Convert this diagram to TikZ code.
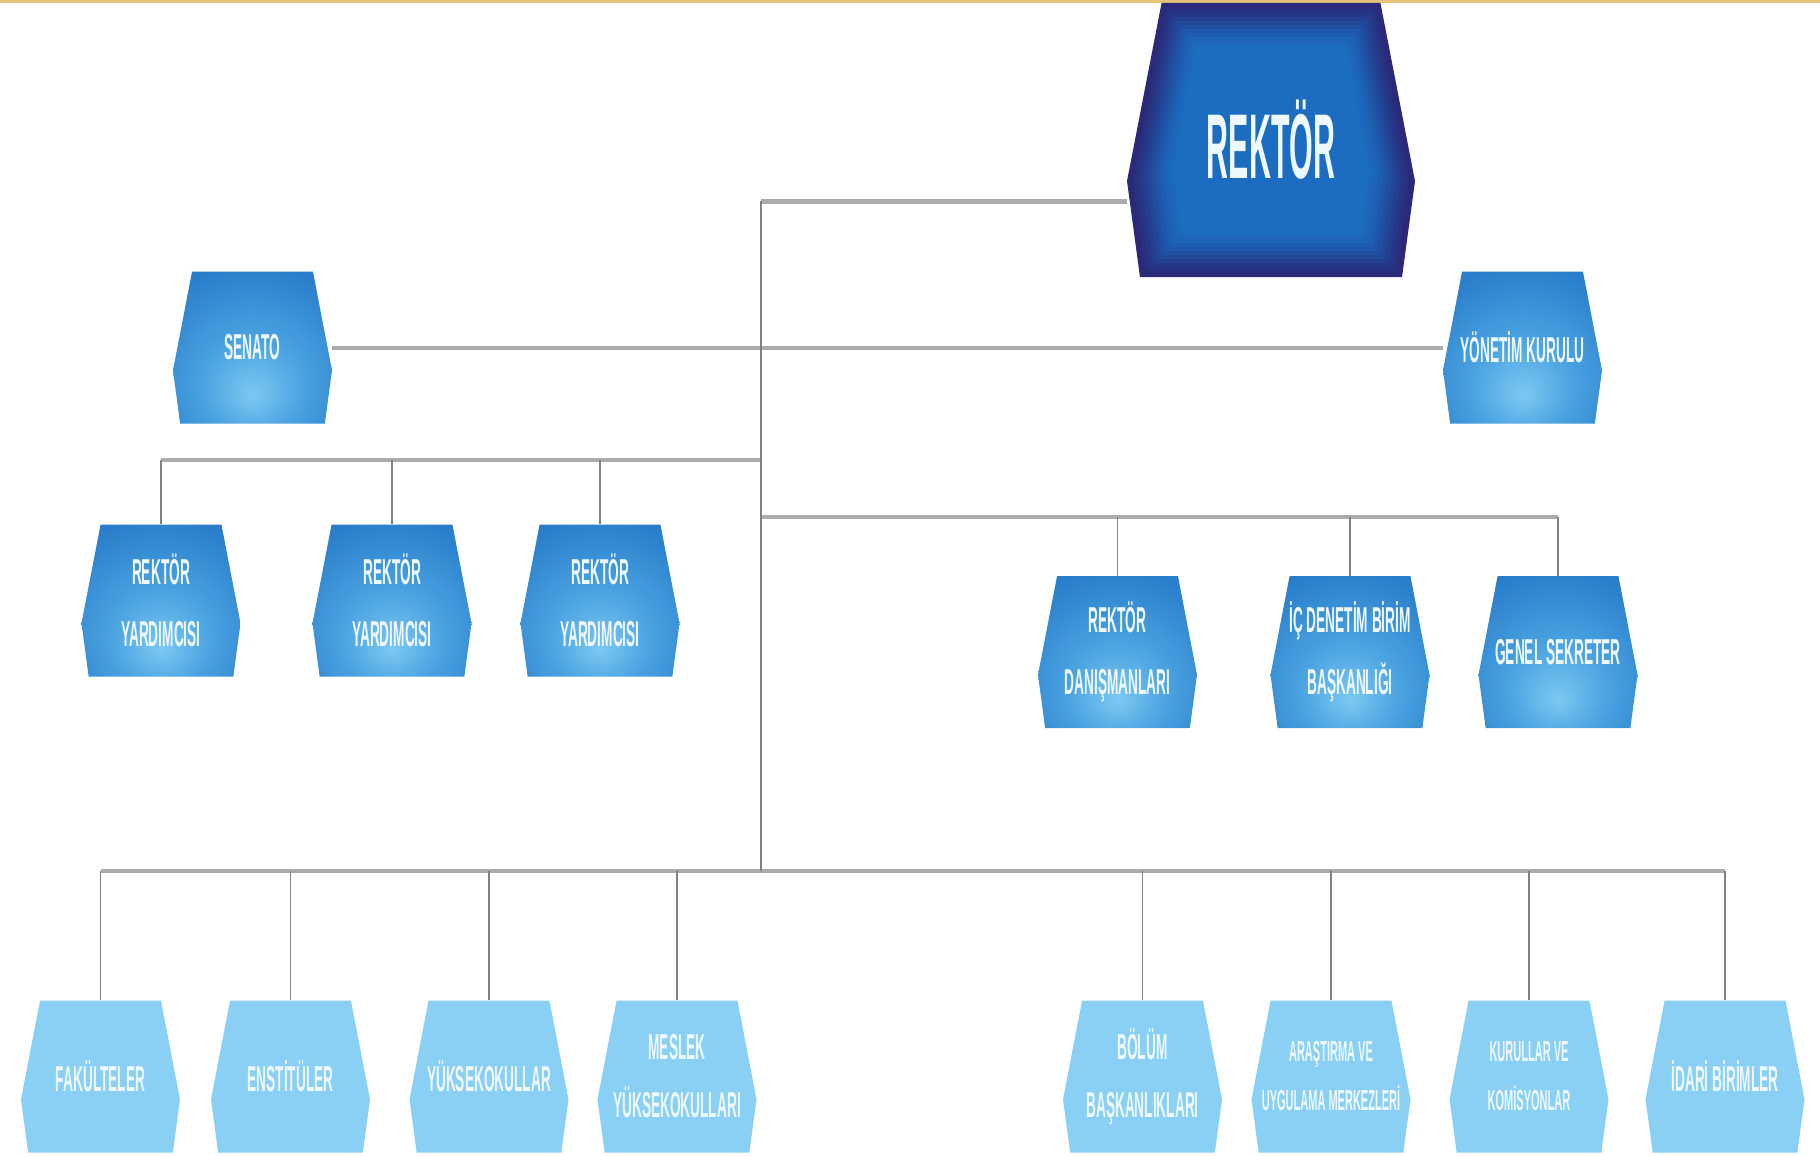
\documentclass[tikz,border=0pt]{standalone}
\usepackage{fontspec}
\newfontfamily\bxfont[FakeStretch=0.38]{Liberation Sans}
\newfontfamily\rkfont[FakeStretch=0.33]{Liberation Sans}
\usetikzlibrary{calc}
\definecolor{rBlue}{HTML}{1C6EC2}
\definecolor{rNavy}{HTML}{2A2A78}
\definecolor{mLight}{HTML}{7CC8F2}
\definecolor{mMid}{HTML}{4AA2E0}
\definecolor{mBlue}{HTML}{2A7ECB}
\definecolor{mDark}{HTML}{1E6CBE}
\definecolor{lowblue}{HTML}{8AD0F5}
\definecolor{txt}{HTML}{EEF8FF}
\definecolor{barc}{HTML}{ABABAB}
\definecolor{dropc}{HTML}{808080}
\definecolor{goldc}{HTML}{E6C27A}
\pgfdeclareradialshading{midsh}{\pgfpoint{0bp}{-16bp}}{color(0bp)=(mLight); color(16bp)=(mMid); color(36bp)=(mBlue); color(52bp)=(mDark); color(80bp)=(mDark)}
\tikzset{
  hexbox/.style={minimum width=79.5pt, minimum height=76pt, inner sep=0pt, align=center, text=txt,
    font=\bxfont\bfseries\fontsize{18}{31}\selectfont,
    path picture={\path[#1] let \p1=(path picture bounding box.north west), \p2=(path picture bounding box.south east),
      \n1={\x2-\x1}, \n2={\y1-\y2} in
      (\x1+0.12*\n1,\y1) -- (\x2-0.12*\n1,\y1) -- (\x2,\y1-0.65*\n2) -- (\x2-0.045*\n1,\y2)
      -- (\x1+0.045*\n1,\y2) -- (\x1,\y1-0.65*\n2) -- cycle;}},
  glowbox/.style={minimum width=144pt, minimum height=137pt, inner sep=0pt, align=center, text=txt,
    font=\rkfont\bfseries\fontsize{46}{48}\selectfont,
    path picture={
      \foreach \s/\c/\o in {1/rNavy/1,0.96/rBlue/0.1,0.93/rBlue/0.12,0.90/rBlue/0.15,0.87/rBlue/0.18,
                            0.84/rBlue/0.22,0.81/rBlue/0.27,0.78/rBlue/0.33,0.75/rBlue/0.4,0.72/rBlue/0.5,0.69/rBlue/0.65,0.66/rBlue/0.9}{
      \path[fill=\c, fill opacity=\o]
        let \p1=(path picture bounding box.north west), \p2=(path picture bounding box.south east),
        \p3=(path picture bounding box.center),
        \n1={\s*(\x2-\x1)/2}, \n2={\s*(\y1-\y2)/2} in
        (\x3-0.76*\n1,\y3+\n2) -- (\x3+0.76*\n1,\y3+\n2) -- (\x3+\n1,\y3-0.3*\n2) -- (\x3+0.91*\n1,\y3-\n2)
        -- (\x3-0.91*\n1,\y3-\n2) -- (\x3-\n1,\y3-0.3*\n2) -- cycle;}}},
  midbox/.style={hexbox={shade,shading=midsh}},
  lowbox/.style={hexbox={fill=lowblue}},
  smalltxt/.style={font=\bxfont\bfseries\fontsize{14.5}{24.5}\selectfont},
  bar/.style={draw=barc, line width=2pt},
  drop/.style={draw=dropc, line width=0.8pt},
}
\begin{document}
\begin{tikzpicture}[x=0.5pt,y=-0.5pt]
\useasboundingbox (0,0) rectangle (1820,1156);
\fill[white] (0,0) rectangle (1820,1156);
\fill[goldc] (0,0) rectangle (1820,3);

% nodes
\node[glowbox] (rektor) at (1271,140) {REKTÖR};
\node[midbox] (senato) at (252.5,347.5) {SENATO};
\node[midbox] (yonetim) at (1522.5,347.5) {YÖNETİM KURULU};
\node[midbox] (ry1) at (161,600.5) {REKTÖR\\YARDIMCISI};
\node[midbox] (ry2) at (392,600.5) {REKTÖR\\YARDIMCISI};
\node[midbox] (ry3) at (600,600.5) {REKTÖR\\YARDIMCISI};
\node[midbox] (rd) at (1117.5,652) {REKTÖR\\DANIŞMANLARI};
\node[midbox] (icd) at (1350,652) {İÇ DENETİM BİRİM\\BAŞKANLIĞI};
\node[midbox] (genel) at (1558,652) {GENEL SEKRETER};

\node[lowbox] (fak) at (100.5,1076.5) {FAKÜLTELER};
\node[lowbox] (ens) at (290.5,1076.5) {ENSTİTÜLER};
\node[lowbox] (yuk) at (489,1076.5) {YÜKSEKOKULLAR};
\node[lowbox, font=\bxfont\bfseries\fontsize{18}{29}\selectfont] (mes) at (677,1076.5) {MESLEK\\YÜKSEKOKULLARI};
\node[lowbox, font=\bxfont\bfseries\fontsize{18}{29}\selectfont] (bol) at (1142.5,1076.5) {BÖLÜM\\BAŞKANLIKLARI};
\node[lowbox, smalltxt] (ara) at (1331,1076.5) {ARAŞTIRMA VE\\UYGULAMA MERKEZLERİ};
\node[lowbox, smalltxt] (kur) at (1529,1076.5) {KURULLAR VE\\KOMİSYONLAR};
\node[lowbox] (ida) at (1725,1076.5) {İDARİ BİRİMLER};

% junctions
\coordinate (tTop) at (761,201);
\coordinate (ryJ) at (761,460);
\coordinate (rdJ) at (761,517);
\coordinate (bJ) at (761,871);

% bars
\draw[bar, line width=2.5pt] (tTop) -- (tTop -| rektor.west);
\draw[bar] (senato.east) -- (senato.east -| yonetim.west);
\draw[bar] (ryJ) -- (ryJ -| ry1.north);
\draw[bar] (rdJ) -- (rdJ -| genel.north);
\draw[bar, line width=1.8pt] (bJ -| fak.north) -- (bJ -| ida.north);

% drops
\foreach \n in {ry1,ry2,ry3} \draw[drop] (ryJ -| \n.north) -- (\n.north);
\foreach \n in {rd,icd,genel} \draw[drop] (rdJ -| \n.north) -- (\n.north);
\foreach \n in {fak,ens,yuk,mes,bol,ara,kur,ida} \draw[drop] (bJ -| \n.north) -- (\n.north);

% trunk
\draw[drop, line width=1pt] (tTop) -- (bJ);
\end{tikzpicture}
\end{document}
